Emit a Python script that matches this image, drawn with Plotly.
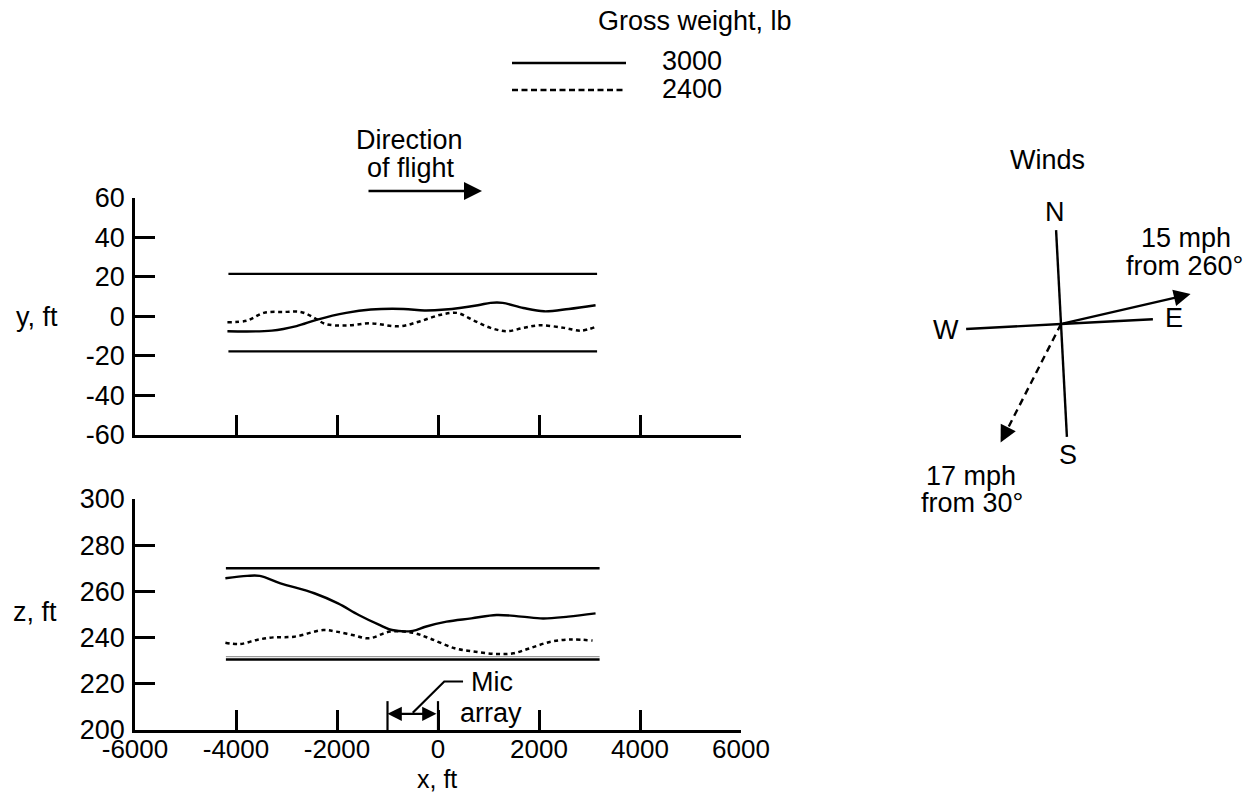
import math
import plotly.graph_objects as go

# ---------------- data ----------------
# upper panel: lateral deviation y (ft) vs x (ft)
x_top_3000 = [-4170, -3290, -2800, -2390, -1820, -1330, -680, -270, 140, 790, 1040, 1280, 1690, 2100, 2590, 3120]
y_top_3000 = [-7.6, -7.3, -5.0, -1.7, 1.7, 3.4, 3.7, 2.9, 3.4, 5.6, 6.8, 6.8, 4.2, 2.5, 3.7, 5.6]
x_top_2400 = [-4170, -3780, -3450, -3040, -2720, -2470, -2230, -1820, -1330, -760, -350, 60, 380, 710, 1040, 1360, 1690, 2020, 2500, 2830, 3120]
y_top_2400 = [-3.0, -2.2, 1.7, 2.2, 2.2, -0.5, -3.9, -4.7, -3.6, -5.1, -2.5, 0.8, 1.7, -2.2, -5.9, -7.6, -5.9, -4.6, -5.9, -7.3, -5.4]
top_limits_x = [-4150, 3150]
top_limits_y = [21.5, -17.8]

# lower panel: altitude z (ft) vs x (ft)
x_bot_3000 = [-4210, -3780, -3530, -3120, -2450, -1980, -1570, -1160, -910, -500, -250, 170, 660, 1160, 1650, 2080, 2580, 3120]
z_bot_3000 = [265.7, 266.7, 266.7, 263.5, 259.2, 254.8, 249.8, 245.5, 243.3, 242.9, 244.7, 246.9, 248.3, 249.8, 249.1, 248.3, 249.1, 250.5]
x_bot_2400 = [-4210, -3920, -3590, -3260, -2850, -2270, -2020, -1690, -1360, -950, -500, -170, 330, 740, 1160, 1490, 1820, 2230, 2640, 3060]
z_bot_2400 = [237.8, 237.2, 239.0, 240.1, 240.4, 243.3, 242.6, 241.1, 239.7, 242.6, 242.1, 239.7, 235.4, 233.9, 232.9, 233.2, 235.4, 238.2, 239.2, 238.7]
bot_limits_x = [-4200, 3200]
bot_limits_z = [270.0, 230.5]
bot_limit_faint_z = 231.8

mic_array_x = [-1000, 0]

x_ticks = [-6000, -4000, -2000, 0, 2000, 4000, 6000]
y_ticks = [-60, -40, -20, 0, 20, 40, 60]
z_ticks = [200, 220, 240, 260, 280, 300]

weights = ["3000", "2400"]
wind_speed = [15, 17]          # mph
wind_from = [260, 30]          # deg

# ---------------- layout helpers ----------------
W, H = 1255, 795
FONT = "Liberation Sans, Arial, Helvetica, sans-serif"
FS = 27


def px(x):
    return x / W


def py(y):
    return 1 - y / H


fig = go.Figure()

solid = dict(color="black", width=2.4)
dotted = dict(color="black", width=2.5, dash="4px,3.5px")

# upper panel
for yv in top_limits_y:
    fig.add_trace(go.Scatter(x=top_limits_x, y=[yv, yv], mode="lines",
                             line=dict(color="black", width=2.4), xaxis="x", yaxis="y"))
fig.add_trace(go.Scatter(x=x_top_3000, y=y_top_3000, mode="lines", line=dict(**solid, shape="spline"),
                         xaxis="x", yaxis="y"))
fig.add_trace(go.Scatter(x=x_top_2400, y=y_top_2400, mode="lines", line=dict(**dotted, shape="spline"),
                         xaxis="x", yaxis="y"))

# lower panel
for zv in bot_limits_z:
    fig.add_trace(go.Scatter(x=bot_limits_x, y=[zv, zv], mode="lines",
                             line=dict(color="black", width=2.6), xaxis="x2", yaxis="y2"))
fig.add_trace(go.Scatter(x=bot_limits_x, y=[bot_limit_faint_z] * 2, mode="lines",
                         line=dict(color="#9a9a9a", width=1.2), xaxis="x2", yaxis="y2"))
fig.add_trace(go.Scatter(x=x_bot_3000, y=z_bot_3000, mode="lines", line=dict(**solid, shape="spline"),
                         xaxis="x2", yaxis="y2"))
fig.add_trace(go.Scatter(x=x_bot_2400, y=z_bot_2400, mode="lines", line=dict(**dotted, shape="spline"),
                         xaxis="x2", yaxis="y2"))

xdom = [135 / W, 741 / W]
axis_common = dict(showline=True, linecolor="black", linewidth=2.5, ticks="inside", ticklen=20,
                   tickwidth=2.5, tickcolor="black", showgrid=False, zeroline=False, automargin=False)
tick_font = dict(family=FONT, size=FS, color="black")


def lab(v):
    return str(v)  # plain hyphen-minus as in the original


fig.update_layout(
    width=W, height=H, margin=dict(l=0, r=0, t=0, b=0),
    paper_bgcolor="white", plot_bgcolor="white", showlegend=False,
    font=dict(family=FONT, size=FS, color="black"),
    xaxis=dict(domain=xdom, range=[-6000, 6000], anchor="y", tickvals=x_ticks[1:],
               showticklabels=False, tickfont=tick_font, **axis_common),
    yaxis=dict(domain=[py(434.5), py(198)], range=[-60, 60], anchor="x", tickvals=y_ticks,
               ticktext=[lab(v) for v in y_ticks], ticklabelstandoff=2, tickfont=tick_font, **axis_common),
    xaxis2=dict(domain=xdom, range=[-6000, 6000], anchor="y2", tickvals=x_ticks,
                ticktext=[lab(v) for v in x_ticks], ticklabelstandoff=-6,
                tickfont=dict(family=FONT, size=26, color="black"), **axis_common),
    yaxis2=dict(domain=[py(730), py(499)], range=[200, 300], anchor="x2", tickvals=z_ticks,
                ticktext=[lab(v) for v in z_ticks], ticklabelstandoff=2, tickfont=tick_font, **axis_common),
)

shapes = []
ann = []


def text(x, y, s, xanchor="center", ref="paper", size=FS):
    if ref == "paper":
        ann.append(dict(x=px(x), y=py(y), xref="paper", yref="paper", text=s, showarrow=False,
                        xanchor=xanchor, yanchor="middle", font=dict(family=FONT, size=size, color="black")))
    else:
        ann.append(dict(x=x, y=y, xref="x2", yref="y2", text=s, showarrow=False,
                        xanchor=xanchor, yanchor="middle", font=dict(family=FONT, size=size, color="black")))


def pline(x0, y0, x1, y1, width=2, dash="solid"):
    shapes.append(dict(type="line", xref="paper", yref="paper", x0=px(x0), y0=py(y0), x1=px(x1), y1=py(y1),
                       line=dict(color="black", width=width, dash=dash)))


def parrow(tail, tip, width=2, size=1.6):
    ann.append(dict(x=px(tip[0]), y=py(tip[1]), xref="paper", yref="paper", ax=tail[0] - tip[0],
                    ay=tail[1] - tip[1], axref="pixel", ayref="pixel", text="", showarrow=True,
                    arrowhead=2, arrowsize=size, arrowwidth=width, arrowcolor="black"))


# axis titles
text(37, 317, "y, ft")
text(35, 612, "z, ft")
text(437, 779, "x, ft", size=25)

# legend
text(695, 21, "Gross weight, lb")
pline(512, 63, 626, 63, width=2.4)
shapes.append(dict(type="line", xref="paper", yref="paper", x0=px(512), y0=py(90), x1=px(626), y1=py(90),
                   line=dict(color="black", width=2.4, dash="6px,3.5px")))
text(692, 61, weights[0])
text(692, 89, weights[1])

# direction of flight
text(409, 140, "Direction")
text(411, 168, "of flight")
parrow((367, 191), (482, 191), width=2.4, size=1.5)

# mic array (lower panel, data coordinates)
for xm in mic_array_x:
    shapes.append(dict(type="line", xref="x2", yref="y2", x0=xm, x1=xm, y0=200, y1=212.5,
                       line=dict(color="black", width=2.2)))
ann.append(dict(x=mic_array_x[0], y=207, ax=mic_array_x[1], ay=207, xref="x2", yref="y2",
                axref="x2", ayref="y2", text="", showarrow=True, arrowhead=2, arrowside="end+start",
                arrowsize=1.3, arrowwidth=2.2, arrowcolor="black"))
shapes.append(dict(type="path", xref="x2", yref="y2",
                   path="M -500,207.5 L 124,221 L 496,221", line=dict(color="black", width=2.2)))
text(1060, 220.8, "Mic", ref="data")
text(1040, 207.2, "array", ref="data")

# winds compass
cx, cy = 1061, 324
rot = -3.0  # compass drawn rotated slightly counter-clockwise


def pt(bearing, r):
    b = math.radians(bearing + rot)
    return cx + r * math.sin(b), cy - r * math.cos(b)


text(1047, 160, "Winds")
arms = {"N": (0, 94, 112), "E": (90, 92, 113), "S": (180, 113, 131), "W": (270, 95, 115)}
for labc, (b, arm, rl) in arms.items():
    ex, ey = pt(b, arm)
    pline(cx, cy, ex, ey, width=2.4)
    lx, ly = pt(b, rl)
    text(lx, ly, labc)

# wind vectors (arrow points toward where the wind blows)
arrow_len = 133
# 15 mph from 260 deg: solid arrow
tip1 = pt(wind_from[0] + 180, arrow_len)
parrow((cx, cy), tip1, width=2.4, size=1.4)
text(1186, 238, f"{wind_speed[0]} mph")
text(1184, 266, f"from {wind_from[0]}°")
# 17 mph from 30 deg: dashed arrow
tip2 = pt(wind_from[1] + 180, arrow_len)
b2 = math.radians(wind_from[1] + 180 + rot)
ux, uy = math.sin(b2), -math.cos(b2)
pline(cx, cy, tip2[0] - 10 * ux, tip2[1] - 10 * uy, width=2.4, dash="7px,5px")
parrow((tip2[0] - 16 * ux, tip2[1] - 16 * uy), tip2, width=2.4, size=1.4)
text(971, 476, f"{wind_speed[1]} mph")
text(972, 503, f"from {wind_from[1]}°")

fig.update_layout(shapes=shapes, annotations=ann)
fig.write_html("out.html")
